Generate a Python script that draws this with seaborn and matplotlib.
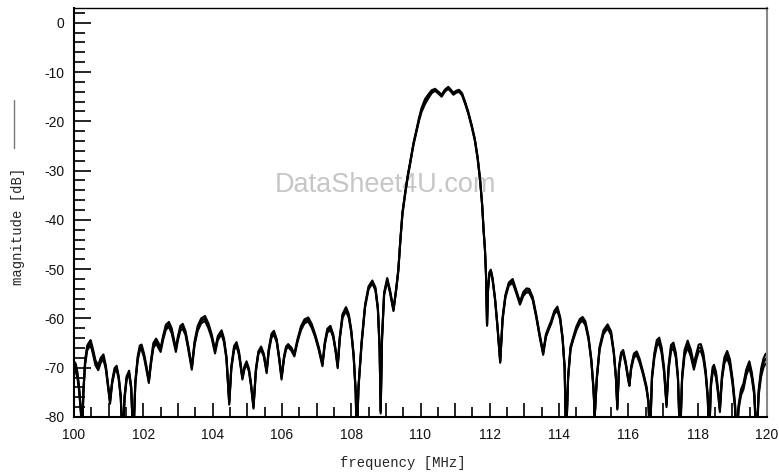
import numpy as np
import pandas as pd
import matplotlib
matplotlib.use('Agg')
import matplotlib.pyplot as plt
import matplotlib.ticker as ticker
from matplotlib.lines import Line2D
import seaborn as sns

# frequency points [MHz]
freq_mhz = [
    100.00, 100.05, 100.10, 100.15, 100.20, 100.23, 100.27, 100.32, 100.38, 100.44,
    100.48, 100.54, 100.62, 100.70, 100.77, 100.85, 100.92, 100.98, 101.04, 101.10,
    101.17, 101.23, 101.29, 101.35, 101.40, 101.46, 101.52, 101.59, 101.65, 101.71,
    101.77, 101.84, 101.90, 101.95, 102.02, 102.09, 102.16, 102.22, 102.29, 102.37,
    102.44, 102.50, 102.57, 102.65, 102.74, 102.82, 102.88, 102.94, 103.00, 103.07,
    103.14, 103.22, 103.30, 103.40, 103.48, 103.57, 103.67, 103.78, 103.88, 103.97,
    104.07, 104.15, 104.26, 104.33, 104.40, 104.48, 104.54, 104.62, 104.69, 104.76,
    104.86, 104.92, 104.98, 105.05, 105.11, 105.18, 105.25, 105.32, 105.40, 105.48,
    105.56, 105.62, 105.70, 105.77, 105.85, 105.92, 105.99, 106.06, 106.12, 106.18,
    106.27, 106.36, 106.45, 106.55, 106.65, 106.76, 106.86, 106.96, 107.06, 107.17,
    107.24, 107.31, 107.40, 107.48, 107.55, 107.61, 107.67, 107.75, 107.85, 107.93,
    108.00, 108.07, 108.13, 108.16, 108.21, 108.30, 108.40, 108.50, 108.61, 108.70,
    108.77, 108.82, 108.85, 108.89, 108.95, 109.04, 109.12, 109.22, 109.30, 109.36,
    109.42, 109.48, 109.56, 109.63, 109.70, 109.80, 109.89, 109.96, 110.03, 110.13,
    110.22, 110.32, 110.42, 110.52, 110.61, 110.70, 110.80, 110.88, 110.95, 111.03,
    111.11, 111.20, 111.30, 111.38, 111.48, 111.57, 111.65, 111.72, 111.78, 111.82,
    111.86, 111.89, 111.92, 111.95, 111.99, 112.03, 112.08, 112.15, 112.22, 112.30,
    112.37, 112.45, 112.55, 112.66, 112.76, 112.87, 112.97, 113.06, 113.14, 113.24,
    113.34, 113.44, 113.54, 113.62, 113.70, 113.77, 113.86, 113.95, 114.03, 114.10,
    114.16, 114.20, 114.26, 114.33, 114.41, 114.50, 114.60, 114.68, 114.76, 114.85,
    114.93, 114.99, 115.03, 115.09, 115.17, 115.28, 115.40, 115.50, 115.58, 115.64,
    115.68, 115.73, 115.79, 115.85, 115.92, 116.00, 116.03, 116.08, 116.16, 116.24,
    116.32, 116.42, 116.52, 116.58, 116.62, 116.68, 116.75, 116.82, 116.89, 116.96,
    117.03, 117.10, 117.16, 117.23, 117.30, 117.37, 117.43, 117.49, 117.55, 117.62,
    117.71, 117.80, 117.89, 117.97, 118.03, 118.09, 118.16, 118.23, 118.29, 118.33,
    118.38, 118.43, 118.47, 118.53, 118.59, 118.64, 118.70, 118.77, 118.85, 118.93,
    119.01, 119.08, 119.12, 119.18, 119.25, 119.32, 119.40, 119.49, 119.56, 119.63,
    119.70, 119.76, 119.83, 119.90, 119.96, 120.00,
]

# middle trace magnitude [dB]
mag_db = [
    -69.5, -70.0, -71.5, -74.5, -79.0, -85.0, -75.0, -69.0, -66.0, -65.3,
    -64.9, -66.5, -69.0, -70.0, -68.5, -67.8, -70.0, -73.5, -77.0, -73.0,
    -70.5, -70.0, -72.0, -76.0, -85.0, -76.0, -72.0, -71.0, -74.0, -85.0,
    -73.0, -68.0, -66.0, -65.8, -67.5, -70.0, -72.8, -69.0, -65.5, -64.6,
    -65.5, -66.4, -64.0, -61.8, -61.2, -62.5, -64.5, -66.4, -64.0, -62.0,
    -61.6, -63.0, -66.0, -70.1, -65.0, -62.0, -60.5, -60.0, -61.5, -63.5,
    -66.7, -64.0, -62.8, -64.5, -68.0, -77.2, -70.0, -66.0, -65.2, -67.0,
    -72.1, -70.0, -69.0, -70.5, -73.5, -78.0, -70.5, -67.0, -66.0, -67.5,
    -70.8, -66.5, -63.5, -62.9, -64.5, -68.0, -72.1, -68.0, -66.0, -65.5,
    -66.2, -67.4, -64.5, -62.0, -60.6, -60.2, -61.5, -63.5, -66.0, -69.4,
    -65.0, -62.5, -61.9, -63.5, -66.5, -69.8, -64.0, -59.5, -58.1, -59.5,
    -62.5, -67.5, -75.0, -85.0, -74.0, -65.0, -57.5, -53.8, -52.6, -54.0,
    -58.0, -66.0, -79.0, -64.0, -55.0, -52.1, -54.5, -58.3, -54.0, -50.2,
    -44.0, -38.6, -34.5, -31.2, -28.5, -24.5, -21.7, -19.5, -17.7, -16.0,
    -15.0, -14.0, -13.6, -14.2, -14.8, -13.8, -13.2, -13.8, -14.4, -14.0,
    -13.8, -14.5, -16.5, -18.3, -21.0, -23.8, -27.5, -31.9, -37.0, -42.0,
    -46.0, -51.0, -61.3, -54.0, -50.8, -50.3, -52.0, -56.0, -61.5, -68.8,
    -60.0, -55.5, -53.0, -52.4, -54.5, -56.9, -55.0, -54.3, -54.4, -56.0,
    -59.5, -63.5, -67.1, -63.5, -62.0, -60.8, -58.8, -58.0, -60.0, -64.0,
    -70.0, -85.0, -72.0, -66.0, -64.0, -62.0, -60.5, -60.1, -61.0, -64.0,
    -68.5, -74.0, -79.6, -72.0, -66.0, -62.8, -61.6, -63.0, -67.0, -72.0,
    -78.2, -70.0, -67.2, -66.8, -69.0, -72.5, -73.4, -70.0, -67.5, -67.1,
    -68.5, -71.0, -74.0, -77.0, -85.0, -72.0, -67.5, -65.0, -64.5, -66.5,
    -70.5, -77.6, -70.0, -66.0, -65.5, -67.5, -72.0, -85.0, -72.0, -67.0,
    -65.2, -67.0, -69.8, -67.5, -66.0, -65.9, -67.5, -71.0, -76.0, -85.0,
    -73.5, -70.5, -70.0, -71.5, -75.0, -78.6, -72.0, -68.5, -67.3, -69.0,
    -73.0, -78.0, -85.0, -78.0, -75.0, -73.8, -71.0, -69.3, -71.5, -75.0,
    -85.0, -75.0, -71.0, -69.0, -68.2, -68.0,
]

# spacing of the upper / lower trace from the middle one [dB]
spread_db = [
    0.8, 0.8, 0.6, 0.4, 0.3, 0.3, 0.4, 0.5, 0.5, 0.5,
    0.5, 0.5, 0.5, 0.5, 0.5, 0.5, 0.4, 0.3, 0.3, 0.3,
    0.4, 0.4, 0.3, 0.3, 0.3, 0.3, 0.3, 0.4, 0.3, 0.3,
    0.3, 0.4, 0.5, 0.5, 0.4, 0.4, 0.3, 0.4, 0.5, 0.5,
    0.5, 0.4, 0.4, 0.5, 0.5, 0.5, 0.4, 0.4, 0.4, 0.5,
    0.5, 0.4, 0.4, 0.3, 0.4, 0.5, 0.5, 0.5, 0.5, 0.4,
    0.4, 0.4, 0.4, 0.4, 0.3, 0.3, 0.3, 0.4, 0.4, 0.4,
    0.3, 0.3, 0.3, 0.3, 0.3, 0.3, 0.3, 0.3, 0.3, 0.3,
    0.3, 0.3, 0.4, 0.4, 0.3, 0.3, 0.3, 0.3, 0.3, 0.3,
    0.3, 0.3, 0.3, 0.4, 0.4, 0.4, 0.4, 0.3, 0.3, 0.3,
    0.3, 0.4, 0.4, 0.3, 0.3, 0.3, 0.3, 0.4, 0.4, 0.4,
    0.3, 0.3, 0.3, 0.3, 0.3, 0.3, 0.3, 0.3, 0.3, 0.3,
    0.3, 0.3, 0.3, 0.3, 0.3, 0.3, 0.3, 0.2, 0.2, 0.2,
    0.2, 0.2, 0.2, 0.2, 0.2, 0.2, 0.2, 0.3, 0.4, 0.5,
    0.4, 0.3, 0.2, 0.2, 0.2, 0.2, 0.2, 0.2, 0.2, 0.2,
    0.2, 0.2, 0.2, 0.2, 0.2, 0.2, 0.2, 0.2, 0.2, 0.2,
    0.2, 0.2, 0.2, 0.2, 0.2, 0.2, 0.2, 0.2, 0.2, 0.2,
    0.3, 0.3, 0.3, 0.4, 0.3, 0.3, 0.4, 0.4, 0.4, 0.3,
    0.3, 0.3, 0.3, 0.3, 0.3, 0.3, 0.3, 0.4, 0.3, 0.3,
    0.3, 0.3, 0.3, 0.3, 0.3, 0.4, 0.4, 0.4, 0.4, 0.3,
    0.3, 0.3, 0.3, 0.3, 0.3, 0.4, 0.4, 0.4, 0.3, 0.3,
    0.3, 0.3, 0.3, 0.4, 0.3, 0.3, 0.3, 0.3, 0.4, 0.4,
    0.4, 0.3, 0.3, 0.3, 0.3, 0.4, 0.5, 0.6, 0.6, 0.6,
    0.5, 0.4, 0.5, 0.6, 0.6, 0.5, 0.4, 0.4, 0.5, 0.6,
    0.7, 0.7, 0.6, 0.6, 0.7, 0.7, 0.6, 0.5, 0.4, 0.4,
    0.5, 0.6, 0.6, 0.6, 0.5, 0.4, 0.5, 0.6, 0.7, 0.7,
    0.6, 0.5, 0.4, 0.5, 0.6, 0.6, 0.6, 0.6, 0.6, 0.5,
    0.5, 0.6, 0.8, 0.9, 1.0, 1.0,
]

trace_sign = {'upper': 1.0, 'middle': 0.0, 'lower': -1.0}

f = np.array(freq_mhz)
m = np.array(mag_db)
s = np.array(spread_db)
frames = []
for name, sign in trace_sign.items():
    frames.append(pd.DataFrame({'freq': f, 'mag': m + sign * s, 'trace': name}))
df = pd.concat(frames, ignore_index=True)

sns.set_theme(style="ticks")
plt.rcParams['font.family'] = ['Liberation Sans', 'DejaVu Sans']
plt.rcParams['axes.unicode_minus'] = False

fig = plt.figure(figsize=(7.79, 4.76), dpi=100)
ax = fig.add_axes([74 / 779, 59 / 476, 693 / 779, 409 / 476])

ax.text(0.449, 0.567, 'DataSheet4U.com', transform=ax.transAxes,
        ha='center', va='center', fontsize=19.5, color='#c6c6c6', zorder=0.5)

sns.lineplot(data=df, x='freq', y='mag', hue='trace', units='trace',
             estimator=None, sort=False, legend=False, ax=ax,
             palette={'upper': 'black', 'middle': 'black', 'lower': 'black'},
             linewidth=1.5)

ax.set_xlim(100, 120)
ax.set_ylim(-80, 3)
ax.set_xlabel('')
ax.set_ylabel('')

ax.xaxis.set_major_locator(ticker.MultipleLocator(1))
ax.xaxis.set_minor_locator(ticker.MultipleLocator(0.5))
ax.xaxis.set_major_formatter(ticker.FuncFormatter(
    lambda v, p: f'{v:.0f}' if round(v) % 2 == 0 else ''))
ax.yaxis.set_major_locator(ticker.MultipleLocator(10))
ax.yaxis.set_minor_locator(ticker.MultipleLocator(2))

ax.tick_params(axis='both', which='both', direction='in', color='black',
               width=1.2, labelsize=10, labelcolor='#111111')
ax.tick_params(axis='x', which='major', length=10, pad=8)
ax.tick_params(axis='x', which='minor', length=7)
ax.tick_params(axis='y', which='major', length=12, pad=7)
ax.tick_params(axis='y', which='minor', length=8)

for side in ['left', 'bottom']:
    ax.spines[side].set_color('black')
    ax.spines[side].set_linewidth(1.5)
ax.spines['top'].set_color('black')
ax.spines['top'].set_linewidth(1.0)
ax.spines['right'].set_color('#888888')
ax.spines['right'].set_linewidth(1.5)

fig.text(403 / 779, 1 - 463 / 476, 'frequency [MHz]', ha='center', va='center',
         fontsize=10, family=['Liberation Mono', 'DejaVu Sans Mono'])
fig.text(18 / 779, 1 - 226 / 476, 'magnitude [dB]', ha='center', va='center',
         rotation=90, fontsize=10, family=['Liberation Mono', 'DejaVu Sans Mono'])
fig.add_artist(Line2D([14 / 779, 14 / 779], [1 - 100 / 476, 1 - 148 / 476],
                      transform=fig.transFigure, color='#777777', linewidth=1.0))

fig.savefig('out.png', dpi=100, facecolor='white')
